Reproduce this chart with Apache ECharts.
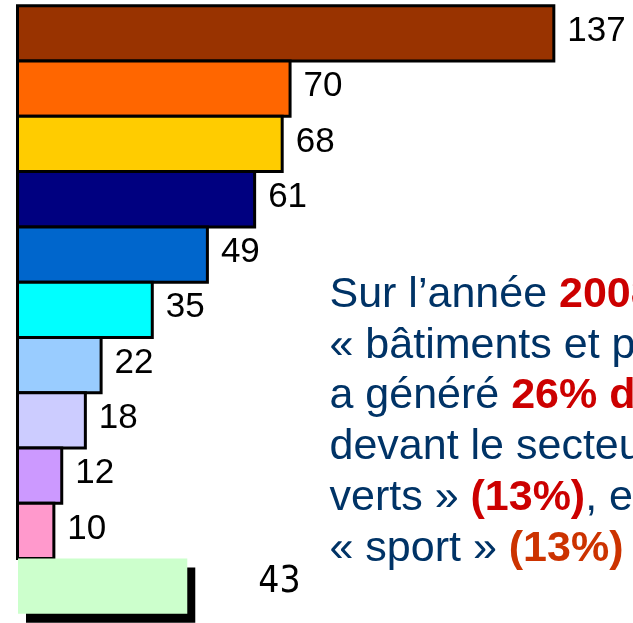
<!DOCTYPE html>
<html>
<head>
<meta charset="utf-8">
<script src="https://cdn.jsdelivr.net/npm/echarts@6/dist/echarts.min.js"></script>
<style>
html,body{margin:0;padding:0;background:#fff;}
#chart{width:633px;height:623px;}
</style>
</head>
<body>
<div id="chart"></div>
<script>
var categories = ['Catégorie 1','Catégorie 2','Catégorie 3','Catégorie 4','Catégorie 5','Catégorie 6','Catégorie 7','Catégorie 8','Catégorie 9','Catégorie 10','Autres'];
var mainValues = [137, 70, 68, 61, 49, 35, 22, 18, 12, 10];
var otherValue = 43;
var barColors = ['#993300','#FF6600','#FFCC00','#000080','#0066CC','#00FFFF','#99CCFF','#CCCCFF','#CC99FF','#FF99CC'];

var chart = echarts.init(document.getElementById('chart'), null, {renderer:'canvas'});

var mainData = categories.map(function (c, i) {
  if (i < mainValues.length) {
    return { value: mainValues[i], itemStyle: { color: barColors[i] } };
  }
  return '-';
});
var otherData = categories.map(function (c, i) {
  return i === categories.length - 1 ? otherValue : '-';
});

var band = 55.27;
var yAxisBase = {
  type: 'category', data: categories, inverse: true, show: false,
  axisLine: {show:false}, axisTick: {show:false}, axisLabel: {show:false}
};

chart.setOption({
  animation: false,
  backgroundColor: '#ffffff',
  grid: [
    { left: 16, top: 5.8, width: 590.5, height: band * 11, containLabel: false },
    { left: 18, top: 5.8, width: 590.5, height: band * 11, containLabel: false }
  ],
  xAxis: [
    { type: 'value', gridIndex: 0, min: 0, max: 150, show: false },
    { type: 'value', gridIndex: 1, min: 0, max: 150, show: false }
  ],
  yAxis: [
    Object.assign({}, yAxisBase, {gridIndex: 0}),
    Object.assign({}, yAxisBase, {gridIndex: 1})
  ],
  series: [
    {
      type: 'bar', xAxisIndex: 0, yAxisIndex: 0, data: mainData,
      barWidth: band + 3,
      itemStyle: { borderColor: '#000', borderWidth: 3 },
      label: {
        show: true, position: 'right', distance: 12,
        fontFamily: '"Liberation Sans", Arial, sans-serif', fontSize: 35,
        color: '#000', offset: [0, -2]
      }
    },
    {
      type: 'bar', xAxisIndex: 1, yAxisIndex: 1, data: otherData,
      barWidth: band,
      itemStyle: { color: '#CCFFCC', shadowColor: '#000', shadowBlur: 0, shadowOffsetX: 8, shadowOffsetY: 9 },
      label: {
        show: true, position: 'right', distance: 71,
        fontFamily: '"Liberation Sans Narrow", "DejaVu Sans Condensed", sans-serif', fontSize: 37,
        color: '#000', offset: [0, -4]
      }
    }
  ],
  graphic: [
    {
      type: 'text', left: 329.5, top: 269.5, silent: true,
      style: {
        text: 'Sur l’année {r|2008}\n« bâtiments et p\na généré {r|26% d}\ndevant le secteu\nverts » {r|(13%)}, et\n« sport » {o|(13%)}',
        fontFamily: '"Liberation Sans", Arial, sans-serif',
        fontSize: 43, lineHeight: 50.8, fill: '#003366',
        rich: {
          r: { fontFamily: '"Liberation Sans", Arial, sans-serif', fontSize: 43, lineHeight: 50.8, fontWeight: 'bold', fill: '#CC0000', color: '#CC0000' },
          o: { fontFamily: '"Liberation Sans", Arial, sans-serif', fontSize: 43, lineHeight: 50.8, fontWeight: 'bold', fill: '#CC3300', color: '#CC3300' }
        }
      }
    }
  ]
});
</script>
</body>
</html>
